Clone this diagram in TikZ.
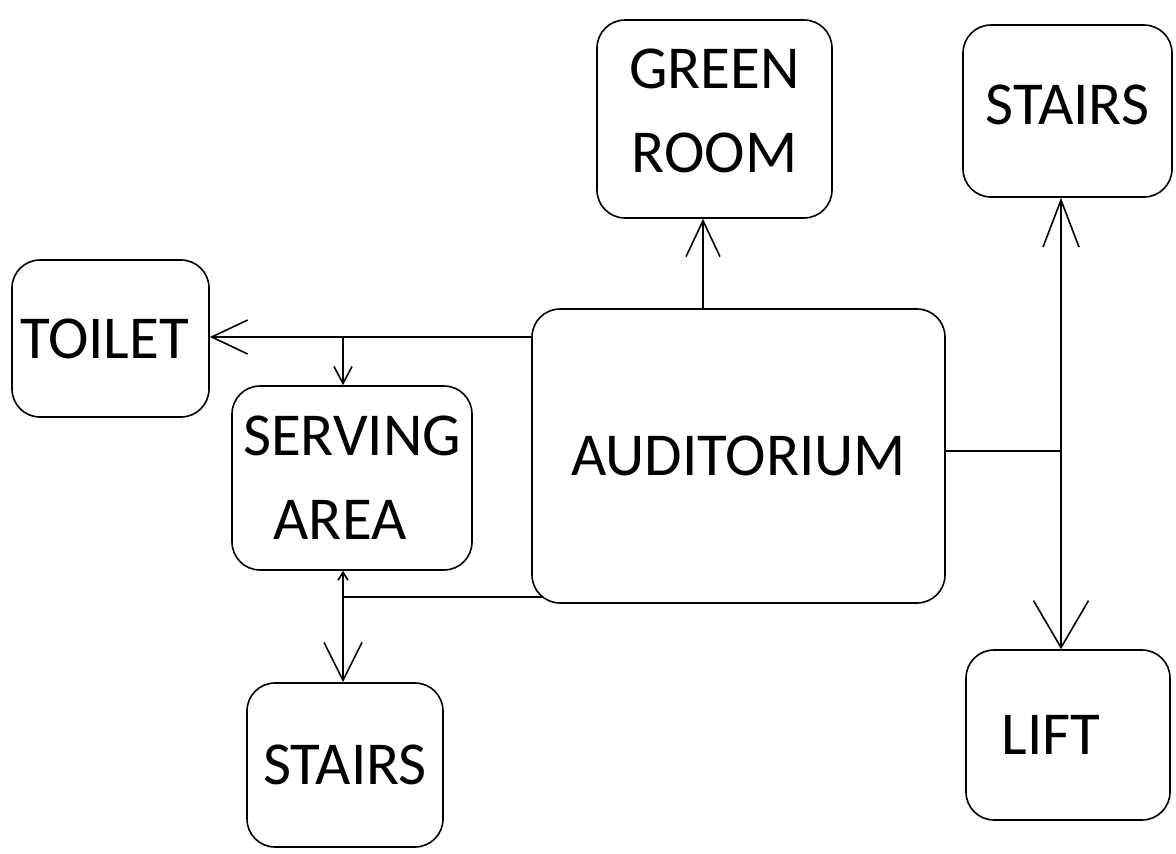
\documentclass[tikz,border=0pt]{standalone}
\usepackage{fontspec}
\setmainfont{Carlito}
\usetikzlibrary{arrows.meta}
\begin{document}
\begin{tikzpicture}[x=1pt,y=-1pt,
  box/.style={draw,line width=1.6pt,rounded corners=28pt,inner sep=0pt,align=center,
    font=\fontsize{61}{84}\selectfont},
  conn/.style={line width=1.6pt},
  barbA/.style={-{Straight Barb[length=36pt,width=34pt,line width=1.6pt]}},
  barbS/.style={-{Straight Barb[length=17pt,width=18pt,line width=1.6pt]}},
]
\useasboundingbox (0,0) rectangle (1176,854);
\node[box,minimum width=235pt,minimum height=198pt,text depth=16pt] (green) at (714.5,119) {GREEN\\ROOM};
\node[box,minimum width=209pt,minimum height=172pt,text depth=12pt] (stairsT) at (1067.5,111) {STAIRS};
\node[box,minimum width=197pt,minimum height=157pt] (toilet) at (110.5,338.5) {TOILET\hspace*{12pt}};
\node[box,minimum width=240pt,minimum height=184pt] (serving) at (352,478) {SERVING\\\hspace*{-24pt}AREA};
\node[box,minimum width=413pt,minimum height=294pt] (aud) at (738.5,456) {AUDITORIUM};
\node[box,minimum width=196pt,minimum height=164pt] (stairsB) at (345,765) {STAIRS};
\node[box,minimum width=204pt,minimum height=170pt] (lift) at (1068,735) {LIFT\hspace*{34pt}};

\coordinate (gx) at (703,0);
\coordinate (ty) at (0,337);
\coordinate (sx) at (343,0);
\coordinate (ab) at (542,597);
\coordinate (ry) at (0,451);
\coordinate (rx) at (1061,0);

% auditorium -> green room
\draw[conn,barbA] (gx |- aud.north) -- (gx |- green.south);
% auditorium -> toilet
\draw[conn,barbA] (aud.west |- ty) -- (toilet.east |- ty);
% branch -> serving area
\draw[conn,barbS] (sx |- ty) -- (sx |- serving.north);
% auditorium bottom -> serving/stairs line
\draw[conn] (ab) -- (sx |- ab);
\draw[conn,{Straight Barb[length=8pt,width=10pt,line width=1.6pt]}-{Straight Barb[length=38pt,width=38pt,line width=1.6pt]}]
  (sx |- serving.south) -- (sx |- stairsB.north);
% right side
\draw[conn] (aud.east |- ry) -- (rx |- ry);
\draw[conn,{Straight Barb[length=47pt,width=36pt,line width=1.6pt]}-{Straight Barb[length=47pt,width=55pt,line width=1.6pt]}]
  (rx |- stairsT.south) -- (rx |- lift.north);
\end{tikzpicture}
\end{document}
